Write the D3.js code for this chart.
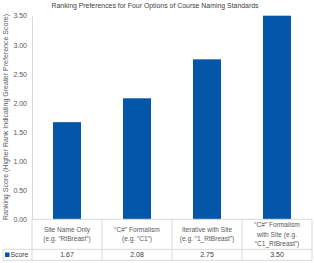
<!DOCTYPE html>
<html><head><meta charset="utf-8">
<script src="https://cdn.jsdelivr.net/npm/d3@7"></script>
<style>body{margin:0;background:#fff}svg{display:block}</style>
</head><body>
<script>
const title = "Ranking Preferences for Four Options of Course Naming Standards";
const yLabel = "Ranking Score (Higher Rank Indicating Greater Preference Score)";
const categories = [
  ["Site Name Only", "(e.g. “RtBreast”)"],
  ["“C#” Formalism", "(e.g. “C1”)"],
  ["Iterative with Site", "(e.g. “1_RtBreast”)"],
  ["“C#” Formalism", "with Site (e.g.", "“C1_RtBreast”)"]
];
const seriesName = "Score";
const scores = [1.67, 2.08, 2.75, 3.50];
const yTicks = [0, 0.5, 1, 1.5, 2, 2.5, 3, 3.5];

const W = 314, H = 263;
const font = "'Liberation Sans', Arial, sans-serif";
const svg = d3.select("body").append("svg").attr("width", W).attr("height", H);

const x0 = 32, x1 = 312, yTop = 15.7, yBot = 219.3, rowLine = 249.3, tableBot = 260.3, legLeft = 3;
const x = d3.scaleBand().domain(d3.range(categories.length)).range([x0, x1]).paddingInner(0.6).paddingOuter(0.3);
const xCol = d3.scaleBand().domain(d3.range(categories.length)).range([x0, x1]);
const y = d3.scaleLinear().domain([0, 3.5]).range([yBot, yTop]);

// title
svg.append("text").attr("x", 155).attr("y", 8).attr("text-anchor", "middle")
  .attr("font-family", font).attr("font-size", 6.9).attr("fill", "#404040")
  .attr("textLength", 207).attr("lengthAdjust", "spacingAndGlyphs").text(title);

// y axis label
svg.append("text").attr("transform", `translate(8,117) rotate(-90)`)
  .attr("text-anchor", "middle").attr("font-family", font).attr("font-size", 7)
  .attr("fill", "#595959").attr("textLength", 206).attr("lengthAdjust", "spacingAndGlyphs").text(yLabel);

// y axis
const yAxis = svg.append("g").attr("transform", `translate(${x0},0)`)
  .call(d3.axisLeft(y).tickValues(yTicks).tickFormat(d3.format(".2f")).tickSize(0).tickPadding(5));
yAxis.select(".domain").attr("stroke", "#d9d9d9");
yAxis.selectAll("text").attr("font-family", font).attr("font-size", 7).attr("fill", "#595959");

// bars
svg.selectAll("rect.bar").data(scores).enter().append("rect").attr("class", "bar")
  .attr("x", (d, i) => x(i)).attr("width", x.bandwidth())
  .attr("y", d => y(d)).attr("height", d => y(0) - y(d)).attr("fill", "#0457a8");

// data table grid
const grid = svg.append("g").attr("stroke", "#d9d9d9").attr("stroke-width", 1).attr("fill", "none");
grid.append("line").attr("x1", x0).attr("x2", x1).attr("y1", yBot).attr("y2", yBot);
grid.append("line").attr("x1", legLeft).attr("x2", x1).attr("y1", rowLine).attr("y2", rowLine);
grid.append("line").attr("x1", legLeft).attr("x2", x1).attr("y1", tableBot).attr("y2", tableBot);
grid.append("line").attr("x1", legLeft).attr("x2", legLeft).attr("y1", rowLine).attr("y2", tableBot);
d3.range(categories.length + 1).forEach(i => {
  const xx = i === categories.length ? x1 : xCol(i);
  grid.append("line").attr("x1", xx).attr("x2", xx).attr("y1", yBot).attr("y2", tableBot);
});

// category labels
categories.forEach((lines, i) => {
  const cx = xCol(i) + xCol.bandwidth() / 2;
  const mid = (yBot + rowLine) / 2;
  const lh = 9.2;
  const start = mid - (lines.length - 1) * lh / 2;
  const t = svg.append("text").attr("text-anchor", "middle").attr("font-family", font)
    .attr("font-size", 6.6).attr("fill", "#595959");
  lines.forEach((l, j) => t.append("tspan").attr("x", cx).attr("y", start + j * lh + 2.3).text(l));
});

// value row
scores.forEach((v, i) => {
  svg.append("text").attr("x", xCol(i) + xCol.bandwidth() / 2).attr("y", (rowLine + tableBot) / 2 + 2.5)
    .attr("text-anchor", "middle").attr("font-family", font).attr("font-size", 7)
    .attr("fill", "#404040").text(d3.format(".2f")(v));
});

// legend key in table
svg.append("rect").attr("x", 5).attr("y", (rowLine + tableBot) / 2 - 2.3).attr("width", 4.5).attr("height", 4.5).attr("fill", "#0457a8");
svg.append("text").attr("x", 10.5).attr("y", (rowLine + tableBot) / 2 + 2.5)
  .attr("font-family", font).attr("font-size", 6.8).attr("fill", "#404040").text(seriesName);
</script>
</body></html>
